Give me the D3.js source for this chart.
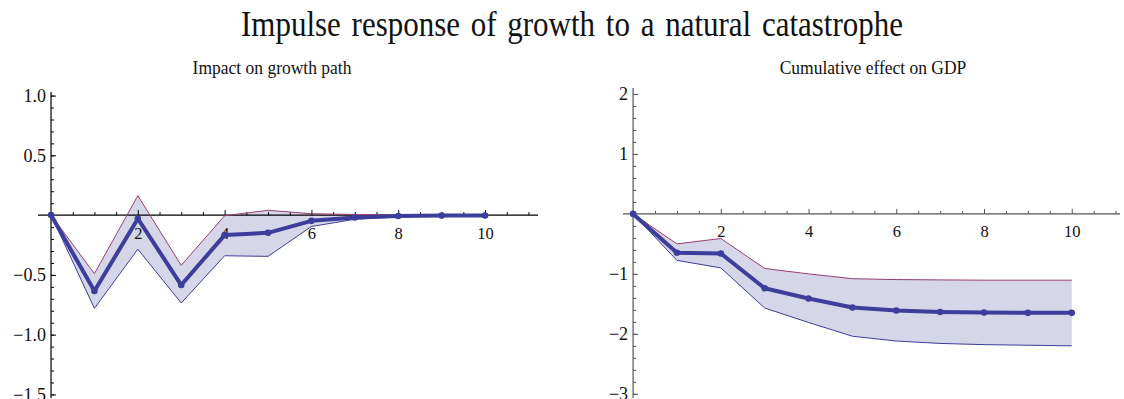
<!DOCTYPE html>
<html lang="en">
<head>
<meta charset="UTF-8">
<title>Impulse response</title>
<style>
  body { margin: 0; background: #fff; }
</style>
</head>
<body>
<svg id="chart" width="1124" height="399"></svg>
<script src="https://d3js.org/d3.v7.min.js"></script>
<script>
// horizon (periods after the shock)
var steps = [0, 1, 2, 3, 4, 5, 6, 7, 8, 9, 10];

// left panel: impact on growth path
var growthMid   = [0, -0.635, -0.03, -0.585, -0.167, -0.148, -0.048, -0.02, -0.008, -0.004, -0.003];
var growthUpper = [0, -0.49, 0.163, -0.42, -0.005, 0.04, 0.012, 0.005, 0.003, 0.002, 0.001];
var growthLower = [0, -0.78, -0.285, -0.735, -0.34, -0.345, -0.095, -0.035, -0.015, -0.01, -0.007];

// right panel: cumulative effect on GDP
var gdpMid   = [0, -0.647, -0.66, -1.24, -1.41, -1.56, -1.61, -1.635, -1.645, -1.65, -1.65];
var gdpUpper = [0, -0.50, -0.41, -0.91, -1.0, -1.08, -1.095, -1.1, -1.105, -1.105, -1.105];
var gdpLower = [0, -0.775, -0.90, -1.57, -1.81, -2.04, -2.12, -2.16, -2.18, -2.19, -2.20];

var xLabels = [2, 4, 6, 8, 10];
var growthTicks = [1.0, 0.5, -0.5, -1.0, -1.5];
var gdpTicks = [2, 1, -1, -2, -3];

var FONT = "'Liberation Serif', 'Times New Roman', Times, serif";

var svg = d3.select("#chart");

// the original's text is a bit taller than wide, so stretch titles vertically
function title(x, y, size, stretch, txt, spacing) {
  svg.append("text")
     .attr("transform", "translate(" + x + "," + y + ") scale(1," + stretch + ")")
     .attr("text-anchor", "middle")
     .style("font-family", FONT)
     .style("font-size", size + "px")
     .style("word-spacing", spacing + "px")
     .attr("fill", "#111")
     .text(txt);
}

title(572, 36, 31, 1.15, "Impulse response of growth to a natural catastrophe", 3);

function panel(opts) {
  var g = svg.append("g");
  var x = d3.scaleLinear().domain(opts.xDomain).range(opts.xRange);
  var y = d3.scaleLinear().domain(opts.yDomain).range([398, opts.yTop]);

  var rows = steps.map(function(s, i) {
    return {t: s, mid: opts.mid[i], up: opts.upper[i], lo: opts.lower[i]};
  });

  // band between bounds
  g.append("path")
   .datum(rows)
   .attr("d", d3.area().x(function(d){ return x(d.t); })
                       .y0(function(d){ return y(d.lo); })
                       .y1(function(d){ return y(d.up); }))
   .attr("fill", "#d5d6e8");

  // x axis (ticks up, labels below)
  var xMinor = d3.range(0.5, 11.01, 0.5).filter(function(v){ return v % 2 != 0; });
  g.append("g").attr("transform", "translate(0," + y(0) + ")")
   .call(d3.axisBottom(x).tickValues(xMinor).tickSizeInner(-3).tickSizeOuter(0).tickFormat(""))
   .call(function(a){ a.select(".domain").remove(); a.selectAll("line").attr("stroke", opts.axisColor); });
  g.append("g").attr("transform", "translate(0," + y(0) + ")")
   .call(d3.axisBottom(x).tickValues(xLabels).tickSizeInner(-5).tickSizeOuter(0).tickPadding(opts.xPad))
   .call(function(a){
      a.select(".domain").remove();
      a.attr("font-family", null);
      a.selectAll("line").attr("stroke", opts.axisColor);
      a.selectAll("text").style("font-family", FONT).style("font-size", "16.5px").attr("fill", "#111");
   });
  g.append("line")
   .attr("x1", opts.xRange[0]).attr("x2", opts.xRange[1])
   .attr("y1", y(0)).attr("y2", y(0))
   .attr("stroke", opts.axisColor).attr("stroke-width", 1.2);

  // y axis (ticks right, labels left)
  var yMinor = d3.range(opts.yDomain[0], opts.yDomain[1], opts.minorStep)
                 .map(function(v){ return Math.round(v / opts.minorStep) * opts.minorStep; })
                 .filter(function(v){ return v >= opts.yDomain[0] && v <= opts.yDomain[1]; });
  g.append("g").attr("transform", "translate(" + x(0) + ",0)")
   .call(d3.axisLeft(y).tickValues(yMinor).tickSizeInner(-3).tickSizeOuter(0).tickFormat(""))
   .call(function(a){ a.select(".domain").remove(); a.selectAll("line").attr("stroke", opts.axisColor); });
  g.append("g").attr("transform", "translate(" + x(0) + ",0)")
   .call(d3.axisLeft(y).tickValues(opts.yTicks).tickSizeInner(-5).tickSizeOuter(0).tickPadding(5).tickFormat(d3.format(opts.fmt)))
   .call(function(a){
      a.select(".domain").remove();
      a.attr("font-family", null);
      a.selectAll("line").attr("stroke", opts.axisColor);
      a.selectAll("text").style("font-family", FONT).style("font-size", "18px").attr("fill", "#111");
   });
  g.append("line")
   .attr("x1", x(0)).attr("x2", x(0))
   .attr("y1", opts.yTop).attr("y2", 398)
   .attr("stroke", opts.axisColor).attr("stroke-width", 1.2);

  // bounds
  g.append("path").datum(rows)
   .attr("d", d3.line().x(function(d){ return x(d.t); }).y(function(d){ return y(d.up); }))
   .attr("fill", "none").attr("stroke", "#993d71").attr("stroke-width", 1);
  g.append("path").datum(rows)
   .attr("d", d3.line().x(function(d){ return x(d.t); }).y(function(d){ return y(d.lo); }))
   .attr("fill", "none").attr("stroke", "#3d3d99").attr("stroke-width", 1);

  // central response
  g.append("path").datum(rows)
   .attr("d", d3.line().x(function(d){ return x(d.t); }).y(function(d){ return y(d.mid); }))
   .attr("fill", "none").attr("stroke", "#3d3d9c").attr("stroke-width", 4)
   .attr("stroke-linejoin", "round");
  g.selectAll("circle.pt").data(rows).enter().append("circle")
   .attr("class", "pt")
   .attr("cx", function(d){ return x(d.t); })
   .attr("cy", function(d){ return y(d.mid); })
   .attr("r", 3.3)
   .attr("fill", "#3d3d9c");

  title(opts.titleX, 74, 17.5, 1.12, opts.title, 0);
}

panel({
  title: "Impact on growth path", titleX: 272,
  mid: growthMid, upper: growthUpper, lower: growthLower,
  xDomain: [-0.3, 11.22], xRange: [38, 538],
  yDomain: [-1.53, 1.03], yTop: 92,
  yTicks: growthTicks, minorStep: 0.1, fmt: ".1f",
  axisColor: "#000", xPad: 12
});

panel({
  title: "Cumulative effect on GDP", titleX: 873,
  mid: gdpMid, upper: gdpUpper, lower: gdpLower,
  xDomain: [-0.23, 11.1], xRange: [623, 1120],
  yDomain: [-3.07, 2.1], yTop: 88,
  yTicks: gdpTicks, minorStep: 0.2, fmt: "d",
  axisColor: "#555", xPad: 11
});
</script>
</body>
</html>
